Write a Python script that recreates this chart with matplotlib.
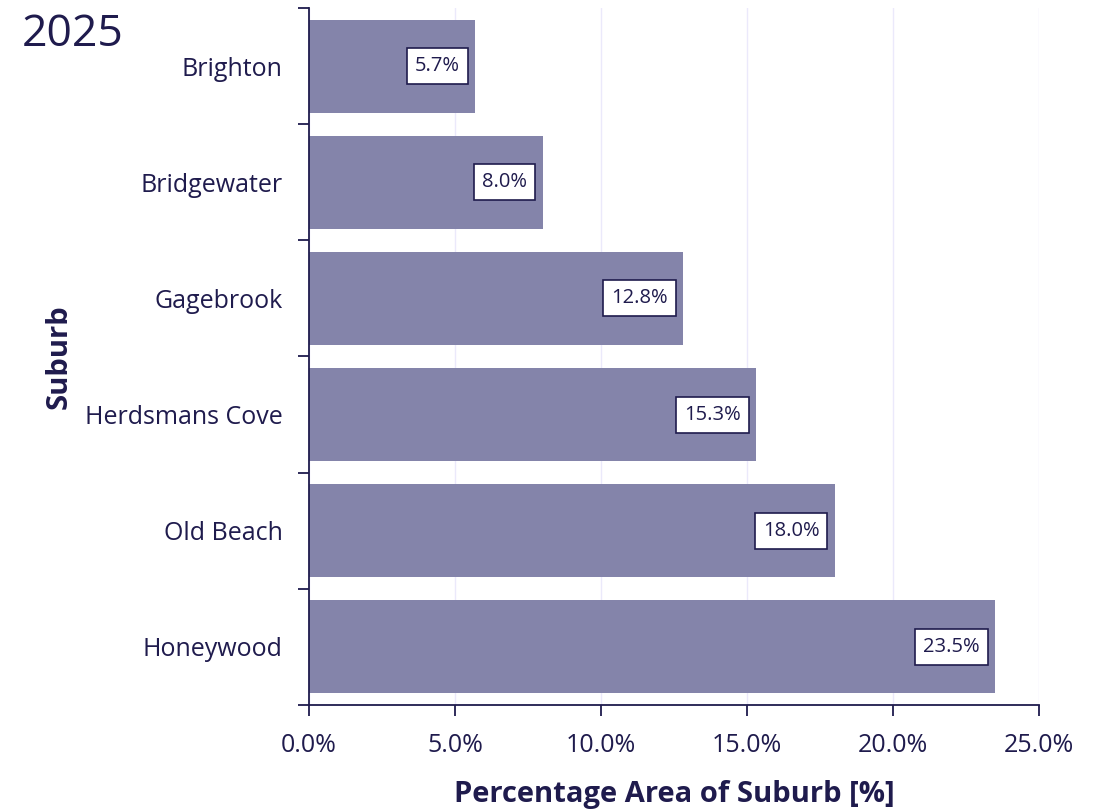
import matplotlib
matplotlib.use("Agg")
from matplotlib import pyplot as plt
from matplotlib.ticker import FuncFormatter

plt.rcParams['font.family'] = ['Open Sans', 'DejaVu Sans']

suburbs = ["Brighton", "Bridgewater", "Gagebrook", "Herdsmans Cove", "Old Beach", "Honeywood"]
area_pct = [5.7, 8.0, 12.8, 15.3, 18.0, 23.5]
year = "2025"

ink = "#1f1b4d"
bar_col = "#8484aa"

fig = plt.figure(figsize=(11.01, 8.09), dpi=100)
ax = fig.add_axes([0.2807, 0.1286, 0.663, 0.8615])

pos = list(range(len(suburbs)))
ax.barh(pos, area_pct, height=0.8, color=bar_col, zorder=2)
ax.set_ylim(len(suburbs) - 0.5, -0.5)
ax.set_xlim(0, 25)

for p, v in zip(pos, area_pct):
    ax.annotate(f"{v:.1f}%", (v, p), xytext=(-11, 0), textcoords="offset points",
                ha="right", va="center", fontsize=14.5, color=ink, zorder=3,
                bbox=dict(boxstyle="square,pad=0.4", fc="white", ec=ink, lw=1.2))

ax.set_xticks([0, 5, 10, 15, 20, 25])
ax.xaxis.set_major_formatter(FuncFormatter(lambda x, _: f"{x:.1f}%"))
ax.set_yticks([p + 0.5 for p in [-1] + pos])
ax.set_yticklabels([])
ax.set_yticks(pos, minor=True)
ax.set_yticklabels(suburbs, minor=True)
ax.tick_params(axis="y", which="minor", length=0, pad=19, labelsize=18, labelcolor=ink)
ax.tick_params(axis="y", which="major", length=8, width=1.3, color=ink, direction="out")
ax.tick_params(axis="x", length=8, width=1.3, color=ink, labelsize=18, labelcolor=ink, pad=12)

ax.grid(axis="x", color="#ebe9fb", lw=1, zorder=0)
for s in ["top", "right"]:
    ax.spines[s].set_visible(False)
for s in ["left", "bottom"]:
    ax.spines[s].set_color(ink)
    ax.spines[s].set_linewidth(1.3)

ax.set_xlabel("Percentage Area of Suburb [%]", fontsize=21, fontweight="bold", color=ink, labelpad=16)
ax.set_ylabel("Suburb", fontsize=21, fontweight="bold", color=ink, labelpad=8)

fig.text(0.02, 0.985, year, fontsize=32, color=ink, ha="left", va="top")

fig.savefig("out.png", dpi=100)
